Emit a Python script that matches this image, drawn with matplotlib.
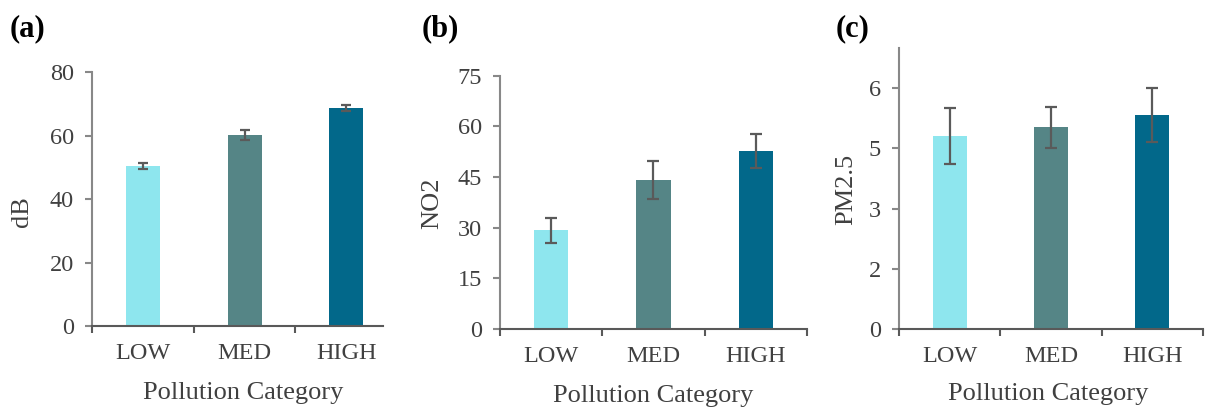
import numpy as np
import matplotlib
matplotlib.use("Agg")
import matplotlib.pyplot as plt
from matplotlib.ticker import FixedLocator, FuncFormatter

plt.rcParams['font.family'] = ['Liberation Serif', 'DejaVu Serif']

categories = ["LOW", "MED", "HIGH"]
colors = ["#8ee6ee", "#558586", "#02688a"]

db_mean = [50.4, 60.1, 68.6]
db_err = [0.9, 1.5, 0.9]

no2_mean = [29.3, 44.1, 52.7]
no2_err = [3.7, 5.7, 5.0]

pm25_mean = [4.81, 5.03, 5.33]
pm25_err = [0.69, 0.51, 0.67]

txt = "#404040"
fs_tick = 17.5
fs_lab = 19

fig = plt.figure(figsize=(12.05, 4.09), dpi=100)

# axes boxes in figure fractions
ax_a = fig.add_axes([0.0763, 0.2029, 0.2415, 0.621])
ax_b = fig.add_axes([0.4149, 0.1956, 0.2548, 0.6193])
ax_c = fig.add_axes([0.7461, 0.1956, 0.2523, 0.687])


def round_half_up(v, pos):
    return "%d" % np.floor(v + 0.5)


def draw(ax, means, errs, ylab, ylim, yticks, xright, capsize, fmt=None):
    x = np.arange(len(categories))
    ax.bar(x, means, width=0.335, color=colors, zorder=2)
    ax.errorbar(x, means, yerr=errs, fmt="none", ecolor="#5a5a5a",
                elinewidth=1.6, capsize=capsize, capthick=1.6, zorder=3)
    ax.set_xlim(-0.5, xright)
    ax.set_ylim(*ylim)
    ax.set_yticks(yticks)
    if fmt is not None:
        ax.yaxis.set_major_formatter(FuncFormatter(fmt))
    # boundaries get tick marks, category centres get labels
    ax.xaxis.set_major_locator(FixedLocator([-0.5, 0.5, 1.5, 2.5]))
    ax.xaxis.set_major_formatter(FuncFormatter(lambda v, p: ""))
    ax.xaxis.set_minor_locator(FixedLocator(x))
    ax.xaxis.set_minor_formatter(FuncFormatter(lambda v, p: categories[int(round(v))]))
    ax.tick_params(axis="x", which="major", length=5, width=1.5, color="#595959")
    ax.tick_params(axis="x", which="minor", length=0, pad=12,
                   labelsize=fs_tick, labelcolor=txt)
    ax.tick_params(axis="y", length=5, width=1.5, color="#888888", pad=8,
                   labelsize=fs_tick, labelcolor=txt)
    for s in ["top", "right"]:
        ax.spines[s].set_visible(False)
    ax.spines["left"].set_color("#888888")
    ax.spines["left"].set_linewidth(1.5)
    ax.spines["bottom"].set_color("#595959")
    ax.spines["bottom"].set_linewidth(1.5)
    ax.set_xlabel("Pollution Category", fontsize=fs_lab, color=txt)
    ax.set_ylabel(ylab, fontsize=fs_lab, color=txt)


draw(ax_a, db_mean, db_err, "dB", (0, 80), [0, 20, 40, 60, 80], 2.36, 3.5)
draw(ax_b, no2_mean, no2_err, "NO2", (0, 75), [0, 15, 30, 45, 60, 75], 2.5, 4.5)
draw(ax_c, pm25_mean, pm25_err, "PM2.5", (0, 7), [0, 1.5, 3, 4.5, 6], 2.5, 4.5,
     fmt=round_half_up)

ax_a.xaxis.set_label_coords(0.519, -0.22)
ax_a.yaxis.set_label_coords(-0.203, 0.449)
ax_b.xaxis.set_label_coords(0.498, -0.221)
ax_b.yaxis.set_label_coords(-0.186, 0.498)
ax_c.xaxis.set_label_coords(0.49, -0.192)
ax_c.yaxis.set_label_coords(-0.138, 0.495)

for lab, xpos in [("(a)", 10), ("(b)", 422), ("(c)", 836)]:
    fig.text(xpos / 1205, 1 - 29 / 409, lab, fontsize=22, fontweight="bold",
             color="black", va="center", ha="left")

fig.savefig("out.png", dpi=100)
